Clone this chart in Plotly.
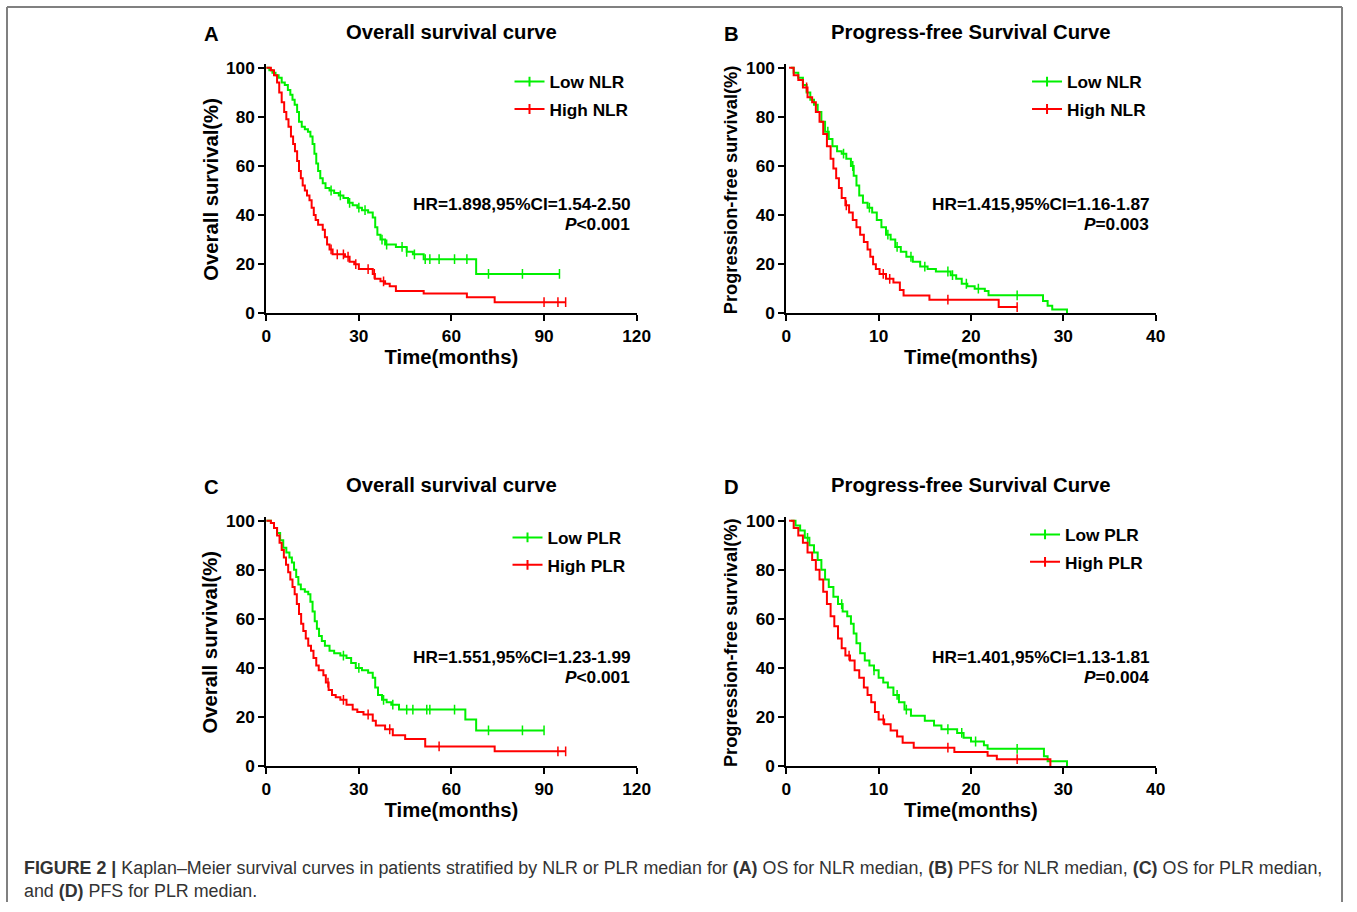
import numpy as np
import plotly.graph_objects as go

# ---------------- data ----------------
# Panel A: overall survival by NLR median (time in months, survival in %)
A_low_t = [0, 1, 2, 3, 4, 5, 6, 7, 7.8, 8.5, 9.2, 10, 10.6, 11.5, 12.5, 13.5, 14.3, 15, 15.6, 16.2,
           16.8, 17.5, 18.3, 19.2, 20.5, 22, 23.5, 25, 26.5, 28, 29.5, 31, 33, 34.5, 35.3, 36, 37,
           38.5, 42, 45.5, 47.5, 51, 68]
A_low_s = [100, 99, 98, 97, 96, 94, 93, 91, 89, 87, 85, 82, 78, 76, 75, 74, 72, 69, 65, 61,
           58, 55, 53, 51, 50, 49, 48, 47, 45, 44, 43, 42, 41, 39, 35, 32, 30,
           28, 27, 25, 24, 22, 16]
A_low_end = 95
A_low_cens = [21, 24, 27, 30, 32, 37.5, 39, 44, 45.5, 48, 51.5, 53, 56, 61, 65, 72, 83, 95]

A_high_t = [0, 1.5, 2.5, 3.5, 4.2, 5, 5.8, 6.5, 7.2, 8, 8.7, 9.3, 10, 10.6, 11.2, 11.8, 12.5, 13.2,
            14, 14.7, 15.4, 16, 16.8, 18.3, 19, 19.7, 20.5, 21.5, 25.5, 27, 28.5, 30, 34.5, 35.2,
            37, 38.5, 40, 42, 51, 65, 74]
A_high_s = [100, 99, 97, 94, 90, 86, 82, 79, 76, 72, 69, 66, 62, 58, 55, 52, 50, 48,
            46, 43, 40, 38, 36, 34, 31, 28, 26, 24, 23, 21, 20, 18, 16, 14,
            13, 12, 11, 9, 8, 6.5, 4.5]
A_high_end = 97
A_high_cens = [21, 23, 25, 26.5, 29, 33, 35, 38, 90, 94.5, 97]

# Panel B: progression-free survival by NLR median
B_low_t = [0.5, 0.8, 1.3, 1.8, 2.2, 2.6, 3.0, 3.4, 3.8, 4.2, 4.6, 5.0, 5.5, 6.0, 6.5, 7.0, 7.3, 7.6,
           7.9, 8.3, 8.8, 9.3, 9.8, 10.3, 10.8, 11.3, 11.8, 12.4, 13.0, 13.7, 14.5, 15.3, 16.2,
           17.8, 18.4, 19.0, 19.6, 20.4, 21.5, 21.9, 27.8, 28.3, 28.8, 30.4]
B_low_s = [100, 98, 96, 93, 90, 87, 85, 82, 78, 74, 71, 68, 66, 65, 63, 60, 56, 52,
           48, 45, 43, 41, 38, 35, 32, 30, 27, 25, 23, 21, 19, 18, 17,
           15.5, 14, 12, 11, 10, 9, 7.3, 5, 3, 1.5, 0]
B_low_end = 30.4
B_low_cens = [4.5, 6.2, 7.2, 9.0, 11.0, 12.0, 13.5, 15.0, 17.5, 18.0, 19.5, 20.8, 25.0]

B_high_t = [0.3, 0.8, 1.3, 1.8, 2.3, 2.8, 3.2, 3.6, 4.0, 4.4, 4.8, 5.1, 5.4, 5.7, 6.0, 6.4, 6.8,
            7.2, 7.6, 8.0, 8.4, 8.8, 9.1, 9.4, 9.7, 10.1, 10.8, 11.6, 12.3, 12.7, 15.5, 23.0]
B_high_s = [100, 97, 95, 92, 88, 86, 82, 78, 73, 68, 63, 59, 55, 51, 47, 44, 41,
            38, 35, 32, 29, 26, 23, 20, 18, 16, 14, 12.5, 9.5, 7.2, 5.5, 2.5]
B_high_end = 25
B_high_cens = [2.2, 6.5, 10.5, 11.2, 17.5, 25]

# Panel C: overall survival by PLR median
C_low_t = [0, 1.5, 2.5, 3.5, 4.5, 5.5, 6.5, 7.5, 8.3, 9.0, 9.7, 10.4, 11.2, 12.5, 13.6, 14.3, 15,
           15.7, 16.4, 17.1, 18, 19, 20.5, 22, 24, 26, 27.5, 29, 31, 33, 34.5, 35.3, 36.2, 37.5,
           39, 40.5, 43, 64.5, 68]
C_low_s = [100, 99, 97, 95, 92, 89, 87, 85, 83, 80, 77, 74, 72, 71, 70, 67, 63,
           59, 56, 53, 51, 49, 47, 46, 45, 44, 42, 40, 39, 38, 36, 32, 29, 27,
           26, 25, 23, 19, 14.5]
C_low_end = 90
C_low_cens = [25, 30, 38, 41, 45.5, 47.5, 52, 53, 61, 72, 83, 90]

C_high_t = [0, 1.5, 2.5, 3.5, 4.3, 5.0, 5.7, 6.4, 7.1, 7.8, 8.5, 9.2, 9.9, 10.6, 11.3, 12.0, 12.8,
            13.6, 14.5, 15.3, 16.2, 17, 18.5, 19.3, 20.2, 21.3, 22.5, 24, 26, 28, 29.5, 31.5,
            34.5, 35.5, 38.5, 41, 45, 51.5, 74]
C_high_s = [100, 99, 97, 94, 91, 88, 85, 82, 79, 76, 73, 70, 66, 62, 58, 55, 52,
            49, 47, 44, 41, 39, 37, 34, 31, 29, 28, 27, 25, 23, 22, 21,
            18.5, 16.5, 15, 12.5, 11, 8, 6]
C_high_end = 97
C_high_cens = [20, 25, 33, 40, 56, 94.5, 97]

# Panel D: progression-free survival by PLR median
D_low_t = [0.5, 1.0, 1.5, 2.0, 2.5, 3.0, 3.4, 3.8, 4.2, 4.6, 5.1, 5.6, 6.1, 6.6, 7.0, 7.3, 7.6, 8.0,
           8.5, 9.0, 9.5, 10.0, 10.5, 11.0, 11.6, 12.2, 12.8, 13.5, 15.0, 16.0, 16.8, 18.5, 19.2,
           20.0, 21.4, 21.8, 27.9, 28.3, 30.4]
D_low_s = [100, 98, 96, 93, 90, 87, 84, 80, 76, 73, 69, 66, 63, 61, 58, 54, 50, 46,
           43, 41, 39, 36, 34, 32, 29, 26, 23, 20.5, 18.5, 16.5, 15, 13.5, 11.5,
           10, 8.5, 7, 4, 2, 0]
D_low_end = 30.4
D_low_cens = [2.3, 6.0, 9.5, 12.0, 13.0, 17.5, 19.0, 20.5, 25.0]

D_high_t = [0.3, 0.8, 1.3, 1.8, 2.3, 2.8, 3.2, 3.6, 4.0, 4.4, 4.8, 5.2, 5.6, 6.0, 6.4, 6.9, 7.4,
            7.9, 8.4, 8.8, 9.2, 9.6, 10.0, 10.6, 11.3, 12.0, 12.6, 13.8, 18.2, 21.8, 22.8, 28.6]
D_high_s = [100, 97, 94, 91, 87, 84, 80, 76, 71, 66, 61, 57, 52, 48, 45, 43, 39,
            36, 32, 29, 26, 22, 19, 17, 14.5, 12, 9.5, 7.5, 5.7, 4.2, 2.8, 0]
D_high_end = 28.6
D_high_cens = [6.8, 10.5, 17.5, 25.0]

OS_xticks = [0, 30, 60, 90, 120]
PFS_xticks = [0, 10, 20, 30, 40]
Y_ticks = [0, 20, 40, 60, 80, 100]

panel_letters = ["A", "B", "C", "D"]
panel_titles = ["Overall survival curve", "Progress-free Survival Curve",
                "Overall survival curve", "Progress-free Survival Curve"]
y_titles = ["Overall survival(%)", "Progression-free survival(%)",
            "Overall survival(%)", "Progression-free survival(%)"]
legend_low = ["Low NLR", "Low NLR", "Low PLR", "Low PLR"]
legend_high = ["High NLR", "High NLR", "High PLR", "High PLR"]
hr_texts = ["HR=1.898,95%CI=1.54-2.50", "HR=1.415,95%CI=1.16-1.87",
            "HR=1.551,95%CI=1.23-1.99", "HR=1.401,95%CI=1.13-1.81"]
p_texts = ["<i>P</i>&lt;0.001", "<i>P</i>=0.003", "<i>P</i>&lt;0.001", "<i>P</i>=0.004"]

caption = ("<b>FIGURE 2 |</b> Kaplan–Meier survival curves in patients stratified by NLR or PLR median for "
           "<b>(A)</b> OS for NLR median, <b>(B)</b> PFS for NLR median, <b>(C)</b> OS for PLR median,"
           "<br>and <b>(D)</b> PFS for PLR median.")

# ---------------- layout constants ----------------
W, H = 1357, 912
# the page photograph comes out slightly reduced (factor SC) and shifted (OFF px);
# layout positions below are given in target-picture pixels and mapped back here
SC, OFF = 0.985, 5.0
FONT = "Liberation Sans, Arial, sans-serif"
GREEN = "#00F000"
RED = "#FF0000"
YMAX = 101.5


def fs(v):
    return round(v / SC, 2)


def px_x(p):
    return min(max(((p - OFF) / SC) / W, 0.0), 1.0)


def px_y(p):
    return min(max(1 - ((p - OFF) / SC) / H, 0.0), 1.0)


# (x px at t=0, x px at xmax, y px at 0%, y px at 100%) in target-picture pixels
geo = [
    (266, 636, 313, 67),
    (785.5, 1154.5, 313, 67),
    (266, 636, 767, 521),
    (785.5, 1154.5, 767, 521),
]
xmaxs = [120, 40, 120, 40]
xticks_list = [OS_xticks, PFS_xticks, OS_xticks, PFS_xticks]
ytitle_sizes = [20, 18, 20, 18]
ytitle_x = [210, 730, 210, 730]

curves = [
    ((A_low_t, A_low_s, A_low_end, A_low_cens), (A_high_t, A_high_s, A_high_end, A_high_cens)),
    ((B_low_t, B_low_s, B_low_end, B_low_cens), (B_high_t, B_high_s, B_high_end, B_high_cens)),
    ((C_low_t, C_low_s, C_low_end, C_low_cens), (C_high_t, C_high_s, C_high_end, C_high_cens)),
    ((D_low_t, D_low_s, D_low_end, D_low_cens), (D_high_t, D_high_s, D_high_end, D_high_cens)),
]

# legend top-left positions (target px)
legend_pos = [(509, 63), (1026, 63), (507, 520), (1024, 517)]


def step_value(t, s, c):
    i = np.searchsorted(np.asarray(t, dtype=float), c, side="right") - 1
    return s[max(i, 0)]


fig = go.Figure()
layout = {}
annotations = []

for k in range(4):
    sfx = "" if k == 0 else str(k + 1)
    xa, ya = "x" + sfx, "y" + sfx
    lg = "legend" + sfx
    x0, x1, y0p, y100p = geo[k]
    pxper = (y0p - y100p) / 100.0
    ytop = y0p - YMAX * pxper

    for (t, s, end, cens), color, name in zip(curves[k], [GREEN, RED], [legend_low[k], legend_high[k]]):
        xs = list(t) + [end]
        ys = list(s) + [s[-1]]
        fig.add_trace(go.Scatter(x=xs, y=ys, mode="lines", line=dict(color=color, width=2, shape="hv"),
                                 xaxis=xa, yaxis=ya, showlegend=False, hoverinfo="skip"))
        cy = [step_value(t, s, c) for c in cens]
        fig.add_trace(go.Scatter(x=cens, y=cy, mode="markers",
                                 marker=dict(symbol="line-ns", size=7, line=dict(color=color, width=1.5)),
                                 xaxis=xa, yaxis=ya, showlegend=False, hoverinfo="skip"))
        # legend entry
        fig.add_trace(go.Scatter(x=[None], y=[None], mode="lines+markers", name=name,
                                 line=dict(color=color, width=2),
                                 marker=dict(symbol="line-ns", size=7, line=dict(color=color, width=2)),
                                 xaxis=xa, yaxis=ya, legend=lg, legendgroup=f"{k}{name}", showlegend=True))

    axis_common = dict(showline=True, linecolor="black", linewidth=2, ticks="outside", ticklen=6,
                       tickwidth=2, tickcolor="black", showgrid=False, zeroline=False,
                       tickfont=dict(family=FONT, size=fs(17), color="black", weight="bold"))
    layout["xaxis" + sfx] = dict(axis_common, domain=[px_x(x0), px_x(x1)], range=[0, xmaxs[k]],
                                 tickvals=xticks_list[k], anchor=ya,
                                 title=dict(text="Time(months)", standoff=5,
                                            font=dict(family=FONT, size=fs(20), color="black", weight="bold")))
    layout["yaxis" + sfx] = dict(axis_common, domain=[px_y(y0p), px_y(ytop)], range=[0, YMAX],
                                 tickvals=Y_ticks, anchor=xa)
    annotations.append(dict(text=y_titles[k], x=px_x(ytitle_x[k]), y=px_y((y0p + y100p) / 2 - 1),
                            xref="paper", yref="paper", xanchor="center", yanchor="middle",
                            textangle=-90, showarrow=False,
                            font=dict(family=FONT, size=fs(ytitle_sizes[k]), color="black", weight="bold")))
    lx, ly = legend_pos[k]
    layout[lg] = dict(x=px_x(lx), y=px_y(ly), xanchor="left", yanchor="top", bgcolor="rgba(0,0,0,0)",
                      font=dict(family=FONT, size=fs(17), color="black", weight="bold"),
                      tracegroupgap=2, itemclick=False, itemdoubleclick=False)

    # panel letter and title
    cx = (x0 + x1) / 2
    ty = 31 if k < 2 else 485
    annotations.append(dict(text=panel_titles[k], x=px_x(cx), y=px_y(ty), xref="paper", yref="paper",
                            xanchor="center", yanchor="middle", showarrow=False,
                            font=dict(family=FONT, size=fs(20), color="black", weight="bold")))
    annotations.append(dict(text=panel_letters[k], x=px_x(x0 - 55), y=px_y(ty + 2), xref="paper",
                            yref="paper", xanchor="center", yanchor="middle", showarrow=False,
                            font=dict(family=FONT, size=fs(20), color="black", weight="bold")))
    # HR / P text
    hy = 204 if k < 2 else 658
    annotations.append(dict(text=hr_texts[k], x=px_x(x1 - 4), y=px_y(hy), xref="paper", yref="paper",
                            xanchor="right", yanchor="middle", showarrow=False,
                            font=dict(family=FONT, size=fs(17), color="black", weight="bold")))
    annotations.append(dict(text=p_texts[k], x=px_x(x1 - 5), y=px_y(hy + 20), xref="paper", yref="paper",
                            xanchor="right", yanchor="middle", showarrow=False,
                            font=dict(family=FONT, size=fs(17), color="black", weight="bold")))

annotations.append(dict(text=caption, x=px_x(22), y=px_y(857), xref="paper", yref="paper",
                        xanchor="left", yanchor="top", align="left", showarrow=False,
                        font=dict(family=FONT, size=fs(17.6), color="#333333")))

border = dict(color="#808080", width=2)
bx0, bx1, by1 = px_x(7), 1 - 1.0 / W, px_y(6)
shapes = [
    dict(type="line", xref="paper", yref="paper", x0=bx0, x1=bx1, y0=by1, y1=by1, line=border),
    dict(type="line", xref="paper", yref="paper", x0=bx0, x1=bx0, y0=0, y1=by1, line=border),
    dict(type="line", xref="paper", yref="paper", x0=bx1, x1=bx1, y0=0, y1=by1, line=border),
]

fig.update_layout(width=W, height=H, margin=dict(l=0, r=0, t=0, b=0), paper_bgcolor="white",
                  plot_bgcolor="white", annotations=annotations, shapes=shapes,
                  font=dict(family=FONT), **layout)

fig.write_html("out.html")
